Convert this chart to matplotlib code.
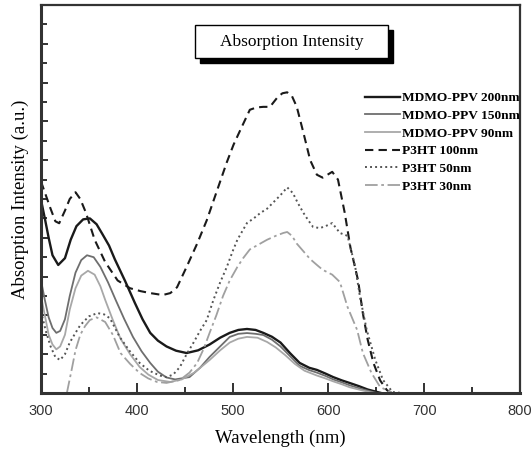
import matplotlib.pyplot as plt
from matplotlib.patches import Rectangle
from matplotlib.ticker import MultipleLocator

# Absorption spectra (wavelength in nm, intensity in a.u.)
wl_ppv200 = [300, 304, 308, 312, 318, 325, 331, 337, 344, 351, 358, 364, 371, 377, 388, 398, 406, 414,
             422, 431, 441, 452, 464, 476, 487, 497, 506, 515, 524, 532, 541, 550, 560, 570, 580, 588,
             597, 605, 614, 622, 632, 641, 651, 655]
abs_ppv200 = [9.95, 9.0, 8.0, 7.1, 6.6, 6.95, 7.9, 8.6, 8.95, 9.0, 8.7, 8.2, 7.6, 6.9, 5.75, 4.64, 3.8, 3.1,
              2.7, 2.4, 2.18, 2.06, 2.2, 2.5, 2.85, 3.1, 3.25, 3.3, 3.25, 3.1, 2.9, 2.6, 2.05, 1.55, 1.3,
              1.19, 1.0, 0.82, 0.65, 0.52, 0.35, 0.18, 0.05, 0.0]

wl_ppv150 = [300, 304, 308, 312, 316, 320, 325, 330, 336, 342, 348, 355, 362, 370, 378, 387, 396, 405,
             414, 422, 431, 440, 455, 466, 476, 487, 497, 506, 515, 524, 532, 541, 550, 560, 570, 580,
             588, 597, 605, 614, 622, 635, 648, 651]
abs_ppv150 = [5.8, 4.8, 3.9, 3.35, 3.1, 3.2, 3.8, 5.0, 6.2, 6.85, 7.1, 7.0, 6.5, 5.7, 4.79, 3.8, 2.89, 2.15,
              1.55, 1.1, 0.8, 0.7, 0.82, 1.3, 1.86, 2.4, 2.89, 3.05, 3.09, 3.05, 2.99, 2.75, 2.4, 1.9, 1.4,
              1.18, 1.05, 0.88, 0.7, 0.55, 0.4, 0.2, 0.03, 0.0]

wl_ppv90 = [300, 304, 308, 312, 316, 320, 325, 330, 336, 342, 349, 356, 362, 367, 375, 383, 393, 403,
            412, 422, 435, 447, 460, 476, 487, 497, 506, 515, 526, 536, 545, 555, 565, 575, 588, 597,
            605, 614, 622, 634, 645, 648]
abs_ppv90 = [5.0, 4.0, 3.0, 2.5, 2.25, 2.4, 3.0, 4.3, 5.4, 6.05, 6.3, 6.1, 5.5, 4.8, 3.76, 2.8, 2.0, 1.34,
             0.95, 0.67, 0.57, 0.7, 1.05, 1.7, 2.2, 2.6, 2.8, 2.89, 2.85, 2.63, 2.35, 1.95, 1.5, 1.15, 0.9,
             0.75, 0.6, 0.45, 0.3, 0.15, 0.02, 0.0]

wl_p3ht100 = [300, 305, 310, 315, 319, 325, 330, 336, 341, 347, 356, 367, 380, 393, 404, 414, 427, 435,
              442, 452, 463, 473, 480, 487, 494, 501, 508, 518, 525, 532, 539, 547, 552, 557, 562, 567,
              574, 581, 588, 594, 599, 604, 610, 617, 623, 631, 636, 641, 647, 654, 661, 666]
abs_p3ht100 = [10.9, 10.2, 9.5, 8.85, 8.75, 9.4, 10.0, 10.35, 10.0, 9.28, 7.9, 6.75, 5.8, 5.4, 5.25, 5.15,
               5.05, 5.15, 5.45, 6.5, 7.7, 8.9, 9.9, 10.9, 11.9, 12.8, 13.55, 14.6, 14.72, 14.75, 14.75,
               15.25, 15.45, 15.5, 15.3, 14.75, 13.4, 12.0, 11.25, 11.1, 11.25, 11.4, 11.0, 9.3, 7.5,
               5.8, 4.1, 2.75, 1.55, 0.65, 0.15, 0.0]

wl_p3ht50 = [300, 305, 310, 315, 320, 325, 330, 336, 341, 350, 359, 366, 372, 382, 392, 403, 413, 424, 431,
             438, 445, 452, 459, 466, 473, 480, 487, 494, 500, 505, 515, 522, 529, 536, 542, 550, 557,
             563, 568, 574, 579, 584, 591, 597, 604, 612, 620, 628, 633, 640, 649, 657, 667, 677]
abs_p3ht50 = [4.2, 3.2, 2.4, 1.85, 1.7, 2.0, 2.6, 3.1, 3.5, 3.95, 4.12, 4.05, 3.85, 2.9, 2.2, 1.55, 1.15,
              0.9, 0.82, 0.95, 1.34, 2.0, 2.58, 3.2, 3.76, 4.8, 5.7, 6.5, 7.3, 7.9, 8.76, 9.0, 9.28, 9.5,
              9.8, 10.2, 10.6, 10.3, 9.8, 9.28, 8.9, 8.56, 8.5, 8.6, 8.76, 8.25, 8.1, 6.5, 4.95, 3.25,
              1.7, 0.67, 0.05, 0.0]

wl_p3ht30 = [327, 332, 336, 341, 346, 351, 358, 367, 375, 383, 393, 403, 412, 421, 431, 445, 455, 463,
             470, 476, 483, 490, 497, 505, 511, 518, 527, 536, 545, 553, 557, 562, 567, 574, 581, 588,
             594, 604, 612, 620, 630, 636, 645, 654, 667]
abs_p3ht30 = [0.0, 1.2, 2.2, 3.0, 3.45, 3.76, 3.9, 3.66, 3.0, 2.06, 1.5, 1.03, 0.75, 0.57, 0.52, 0.67, 1.05,
              1.55, 2.3, 3.1, 4.0, 5.0, 5.8, 6.5, 6.95, 7.4, 7.65, 7.9, 8.1, 8.25, 8.3, 8.1, 7.7, 7.3,
              6.9, 6.6, 6.35, 6.1, 5.72, 4.43, 3.25, 2.06, 1.03, 0.31, 0.0]

labels = ['MDMO-PPV 200nm', 'MDMO-PPV 150nm', 'MDMO-PPV 90nm', 'P3HT 100nm', 'P3HT 50nm', 'P3HT 30nm']

fig = plt.figure(figsize=(5.32, 4.53), dpi=100)
ax = fig.add_axes([41 / 532, 60 / 453, 479 / 532, 388 / 453])

ax.plot(wl_ppv200, abs_ppv200, color='#1a1a1a', lw=1.7, label=labels[0])
ax.plot(wl_ppv150, abs_ppv150, color='#6e6e6e', lw=1.3, label=labels[1])
ax.plot(wl_ppv90, abs_ppv90, color='#a8a8a8', lw=1.3, label=labels[2])
ax.plot(wl_p3ht100, abs_p3ht100, color='#1a1a1a', lw=1.5, ls=(0, (4, 2.5)), label=labels[3])
ax.plot(wl_p3ht50, abs_p3ht50, color='#555555', lw=1.4, ls=(0, (1, 1.6)), label=labels[4])
ax.plot(wl_p3ht30, abs_p3ht30, color='#a0a0a0', lw=1.3, ls=(0, (7, 2, 1.5, 2)), label=labels[5])

ax.set_xlim(300, 800)
ax.set_ylim(0, 20)
ax.xaxis.set_major_locator(MultipleLocator(100))
ax.xaxis.set_minor_locator(MultipleLocator(50))
ax.yaxis.set_major_locator(MultipleLocator(2))
ax.yaxis.set_minor_locator(MultipleLocator(1))
ax.tick_params(which='both', direction='in', width=1.3, color='#222222', top=False, right=False)
ax.tick_params(which='major', length=7)
ax.tick_params(which='minor', length=4)
ax.tick_params(axis='y', which='major', length=5)
ax.tick_params(axis='y', labelleft=False)
ax.tick_params(axis='x', pad=8, labelsize=10.5, labelcolor='#333333')
for t in ax.get_xticklabels():
    t.set_family('Liberation Sans')
for s in ax.spines.values():
    s.set_linewidth(1.6)
    s.set_color('#333333')
ax.spines['left'].set_linewidth(2.2)
ax.spines['bottom'].set_linewidth(2.2)

ax.set_xlabel('Wavelength (nm)', family='Liberation Serif', fontsize=13.5, labelpad=8)
ax.set_ylabel('Absorption Intensity (a.u.)', family='Liberation Serif', fontsize=13.5, labelpad=5)

# title box with drop shadow
ax.add_patch(Rectangle((0.331, 0.850), 0.403, 0.085, transform=ax.transAxes,
                       facecolor='black', edgecolor='black', zorder=4))
ax.add_patch(Rectangle((0.3215, 0.863), 0.403, 0.085, transform=ax.transAxes,
                       facecolor='white', edgecolor='black', lw=1.0, zorder=5))
ax.text(0.523, 0.905, 'Absorption Intensity', transform=ax.transAxes, ha='center', va='center',
        family='Liberation Serif', fontsize=12.5, zorder=6)

ax.legend(loc='upper left', bbox_to_anchor=(0.676, 0.776), frameon=False, borderpad=0,
          borderaxespad=0, handlelength=2.65, handletextpad=0.15, labelspacing=0.4,
          prop={'family': 'Liberation Serif', 'weight': 'bold', 'size': 9.6})

fig.savefig('out.png', dpi=100)
